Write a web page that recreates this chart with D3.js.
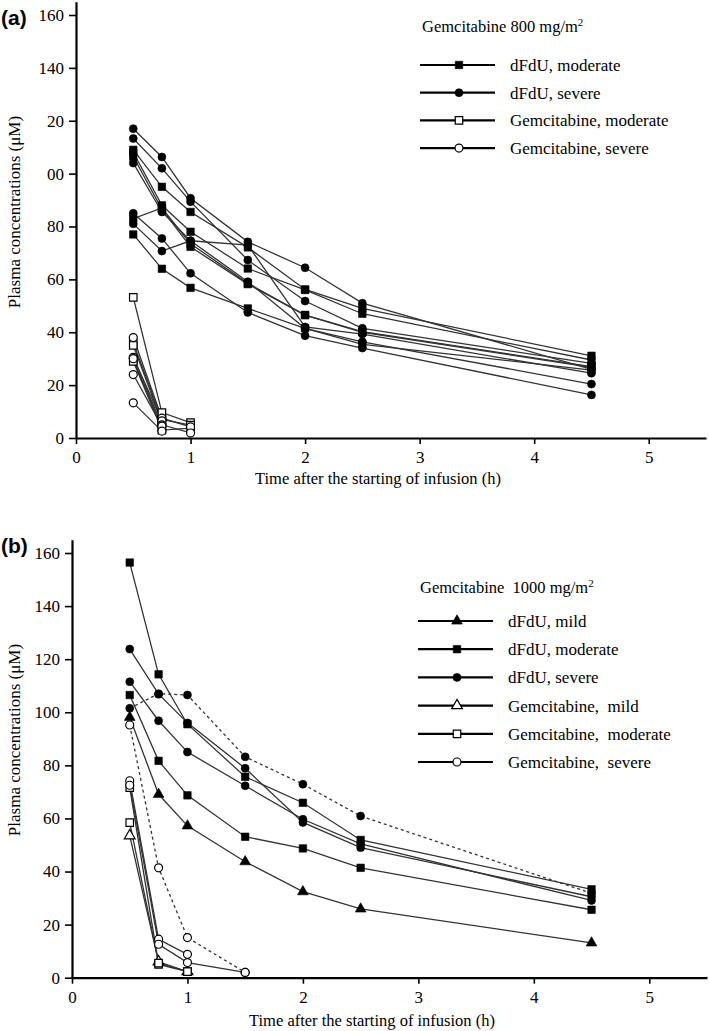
<!DOCTYPE html>
<html>
<head>
<meta charset="utf-8">
<script src="https://cdn.jsdelivr.net/npm/d3@7"></script>
<style>
  body { margin: 0; background: #fff; }
  svg { display: block; }
  text { white-space: pre; }
</style>
</head>
<body>
<div id="chart"></div>
<script>
// sampling times (h)
var times = [0.5, 0.75, 1, 1.5, 2, 2.5, 4.5];
var xTicks = [0, 1, 2, 3, 4, 5];
var yTicks = [0, 20, 40, 60, 80, 100, 120, 140, 160];
// panel (a) shows the clipped labels of the original figure
var yLabelsA = ["0", "20", "40", "60", "80", "00", "20", "140", "160"];
var yLabelsB = ["0", "20", "40", "60", "80", "100", "120", "140", "160"];

// ---- panel (a): gemcitabine 800 mg/m2, one row per patient ----
var dfduModerateA = [
  [109, 95, 85.5, 72.1, 56.2, 49, 31.1],
  [108, 88, 78, 64.1, 56, 47, 29.5],
  [106.5, 86.5, 72.3, 58.2, 46.5, 40.2, 27],
  [83, 87, 73.5, 58.5, 46.5, 40, 26.7],
  [77, 64, 56.8, 49, 41.5, 35.4, 25.7]
];
var dfduSevereA = [
  [117, 106.3, 90.7, 74.2, 64.4, 51, 26],
  [113.3, 102, 89.4, 67.3, 51.8, 41.5, 28.2],
  [104, 85.5, 74.6, 59.1, 41.5, 36.4, 20.4],
  [85, 75.5, 62.3, 47.5, 38.7, 34, 16.3],
  [81, 70.7, 74.6, 73, 42, 39.3, 24.5]
];
var gemModerateA = [
  [53.2, 9.6, 5.8],
  [36, 7, 4.9],
  [35, 6],
  [29.5, 4],
  [29, 3, 3.7]
];
var gemSevereA = [
  [38, 7.5, 4.2],
  [30.5, 6.5],
  [30, 5, 1.9],
  [24, 4.5],
  [13.3, 2.6]
];

// ---- panel (b): gemcitabine 1000 mg/m2 ----
var dfduMildB = [
  [98.1, 69.1, 57.2, 43.7, 32.4, 25.9, 13.1]
];
var dfduModerateB = [
  [156.4, 114.3, 95.5, 75.7, 65.9, 51.9, 33.3],
  [106.5, 81.7, 68.7, 53.1, 48.7, 41.4, 25.6]
];
var dfduSevereB = [
  [123.8, 106.8, 96, 78.9, 58.5, 49, 30.5],
  [111.5, 96.8, 85, 72.3, 59.7, 50.4, 29.1],
  [101.5, 107, 106.5, 83.2, 72.9, 60.9, 31.8]
];
var gemMildB = [
  [53.5, 6, 2.3]
];
var gemModerateB = [
  [71.6, 5, 2.3],
  [58.4, 5.5, 2.3]
];
var gemSevereB = [
  [74.2, 14.5, 8.8],
  [72.5, 12.6, 5.7, 2.0],
  [95.2, 41.4, 15.1, 2.0]
];
// the third severe patient of (b) is drawn dotted
var dottedSevereB = 2;

var legendA = ["dFdU, moderate", "dFdU, severe", "Gemcitabine, moderate", "Gemcitabine, severe"];
var legendB = ["dFdU, mild", "dFdU, moderate", "dFdU, severe", "Gemcitabine,  mild", "Gemcitabine,  moderate", "Gemcitabine,  severe"];

var svgWidth = 709;
var svgHeight = 1031;
var serif = "'Liberation Serif', 'Times New Roman', serif";

var svg = d3.select("#chart")
  .append("svg")
  .attr("width", svgWidth)
  .attr("height", svgHeight);

svg.append("rect").attr("width", svgWidth).attr("height", svgHeight).attr("fill", "#fff");

var shapes = {
  triangle: d3.symbolTriangle,
  square: d3.symbolSquare,
  circle: d3.symbolCircle
};
var sizes = { triangle: 50, square: 56, circle: 50 };

function marker(g, shape, open, x, y) {
  g.append("path")
    .attr("d", d3.symbol().type(shapes[shape]).size(sizes[shape])())
    .attr("transform", "translate(" + x + "," + y + ")")
    .attr("fill", open ? "#fff" : "#000")
    .attr("stroke", "#000")
    .attr("stroke-width", open ? 1.2 : 0.6);
}

function drawPanel(p) {
  var x = d3.scaleLinear().domain([0, 5.5]).range(p.xRange);
  var y = d3.scaleLinear().domain([0, 165]).range(p.yRange);
  var g = svg.append("g");

  // axes
  var xAxis = g.append("g")
    .attr("transform", "translate(0," + p.yRange[0] + ")")
    .call(d3.axisBottom(x).tickValues(xTicks).tickSize(6).tickSizeOuter(0).tickPadding(7)
      .tickFormat(d3.format("d")));
  var yAxis = g.append("g")
    .attr("transform", "translate(" + p.xRange[0] + ",0)")
    .call(d3.axisLeft(y).tickValues(yTicks).tickSize(7).tickSizeOuter(0).tickPadding(5)
      .tickFormat(function(d, i) { return p.yLabels[i]; }));
  [xAxis, yAxis].forEach(function(a) {
    a.select(".domain").attr("stroke", "#000").attr("stroke-width", 2.2);
    a.selectAll(".tick line").attr("stroke", "#000").attr("stroke-width", 1.6);
    a.selectAll(".tick text").attr("fill", "#000")
      .style("font-family", serif).style("font-size", "17px");
  });

  var line = d3.line()
    .defined(function(d) { return d != null; })
    .x(function(d, i) { return x(times[i]); })
    .y(function(d) { return y(d); });

  // series: draw lines first, then markers
  p.series.forEach(function(s) {
    s.rows.forEach(function(row, k) {
      g.append("path")
        .datum(row)
        .attr("d", line)
        .attr("fill", "none")
        .attr("stroke", "#333")
        .attr("stroke-width", 1.3)
        .attr("stroke-dasharray", s.dotted === k ? "3,3" : null);
    });
  });
  p.series.forEach(function(s) {
    s.rows.forEach(function(row) {
      row.forEach(function(v, i) {
        if (v != null) marker(g, s.shape, s.open, x(times[i]), y(v));
      });
    });
  });

  // axis titles
  g.append("text")
    .attr("x", p.xTitle[0]).attr("y", p.xTitle[1])
    .attr("text-anchor", "middle")
    .style("font-family", serif).style("font-size", "16.5px")
    .text("Time after the starting of infusion (h)");
  g.append("text")
    .attr("transform", "translate(" + p.yTitle[0] + "," + p.yTitle[1] + ") rotate(-90)")
    .attr("text-anchor", "middle")
    .style("font-family", serif).style("font-size", "17px")
    .text("Plasma concentrations (\u03bcM)");

  // panel letter
  g.append("text")
    .attr("x", 1).attr("y", p.letterY)
    .style("font-family", "'Liberation Sans', Arial, sans-serif")
    .style("font-size", "21px").style("font-weight", "bold")
    .text(p.letter);

  // legend
  var title = g.append("text")
    .attr("x", p.legend.x0 + 2).attr("y", p.legend.titleY)
    .style("font-family", serif).style("font-size", "16.5px");
  title.append("tspan").text(p.legend.title);
  title.append("tspan").attr("dy", -6).style("font-size", "11px").text("2");

  p.series.forEach(function(s, i) {
    var ly = p.legend.y0 + i * p.legend.step;
    g.append("line")
      .attr("x1", p.legend.x0).attr("x2", p.legend.x0 + 75)
      .attr("y1", ly).attr("y2", ly)
      .attr("stroke", "#000").attr("stroke-width", 2.2);
    marker(g, s.shape, s.open, p.legend.x0 + 39, ly);
    g.append("text")
      .attr("x", p.legend.x0 + 90).attr("y", ly + 6)
      .style("font-family", serif).style("font-size", "17px")
      .text(s.label);
  });
}

drawPanel({
  letter: "(a)", letterY: 25,
  xRange: [76, 706], yRange: [438, 438 - 165 * 423 / 160],
  yLabels: yLabelsA,
  xTitle: [378, 484], yTitle: [20, 212],
  legend: { x0: 420, titleY: 32, title: "Gemcitabine 800 mg/m", y0: 65, step: 27.7 },
  series: [
    { rows: dfduModerateA, shape: "square", open: false, label: legendA[0] },
    { rows: dfduSevereA, shape: "circle", open: false, label: legendA[1] },
    { rows: gemModerateA, shape: "square", open: true, label: legendA[2] },
    { rows: gemSevereA, shape: "circle", open: true, label: legendA[3] }
  ]
});

drawPanel({
  letter: "(b)", letterY: 553,
  xRange: [72, 707], yRange: [977.7, 977.7 - 165 * 424.7 / 160],
  yLabels: yLabelsB,
  xTitle: [372, 1026], yTitle: [20, 740],
  legend: { x0: 418, titleY: 593, title: "Gemcitabine  1000 mg/m", y0: 621, step: 28.2 },
  series: [
    { rows: dfduMildB, shape: "triangle", open: false, label: legendB[0] },
    { rows: dfduModerateB, shape: "square", open: false, label: legendB[1] },
    { rows: dfduSevereB, shape: "circle", open: false, label: legendB[2], dotted: dottedSevereB },
    { rows: gemMildB, shape: "triangle", open: true, label: legendB[3] },
    { rows: gemModerateB, shape: "square", open: true, label: legendB[4] },
    { rows: gemSevereB, shape: "circle", open: true, label: legendB[5], dotted: dottedSevereB }
  ]
});
</script>
</body>
</html>
